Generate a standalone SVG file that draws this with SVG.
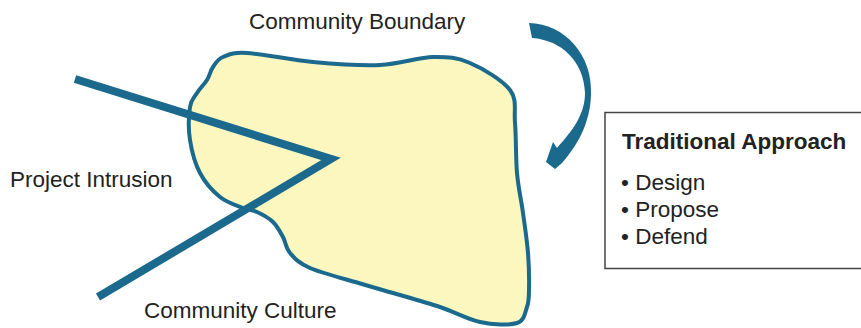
<svg xmlns="http://www.w3.org/2000/svg" width="861" height="328" viewBox="0 0 861 328">
  <style>
    .lbl { font-family: "Liberation Sans", Arial, Helvetica, sans-serif; font-size: 22.5px; fill: #222222; }
    .title { font-weight: bold; }
    .blue { fill: #1b6a8e; }
  </style>
  <rect width="861" height="328" fill="#ffffff"/>

  <!-- community area -->
  <g id="community">
    <path fill="#fbf7bf" stroke="#1b6a8e" stroke-width="4" stroke-linejoin="round"
      d="M213,67 C215.7,63.2 217.3,59.3 223,57
         S232,52.2 247,53 S290.8,60 313,62 S360,65.8 380,65 S418,57.3 433,57
         S457.2,57.5 470,63 S502.5,80 510,90 S513.8,109.2 515,123 S515.7,158 517,173
         S521.2,199.7 523,213 S527,240.2 528,253 S529.2,281 529,290 S529,301.5 527,307
         S524.8,320.5 517,323 S492.8,324.7 480,322 S454.5,311.8 440,307 S406,296.8 393,293
         S375.8,288.2 362,284 S322,273.2 310,268 S294.5,258.2 290,253 S285.8,242.2 283,237
         S277.3,226.2 273,222 S262,214.3 257,212 S249.2,210.5 243,208 S227.2,202.8 220,197
         S205,182.5 200,173 S191.7,151 190,140 S188.8,114.8 190,107 S194.2,97.5 197,93
         S204.3,84.3 207,80 S210.3,70.8 213,67 Z"/>
  </g>

  <!-- intrusion wedge and cycle arrow -->
  <g id="connectors">
    <polyline points="75,79 331,159 98,297" fill="none" stroke="#1b6a8e" stroke-width="8" stroke-linejoin="miter" stroke-miterlimit="6"/>
    <path class="blue"
      d="M529,23 C565,24 593,55 591,95 C590,125 576,147 562,163
         L555,169 L546,162 L553,142 L557,148
         C572,131 585,115 585,93 C584,62 562,40 532,38 Z"/>
  </g>

  <g id="label-boundary">
    <text class="lbl" x="249" y="29">Community Boundary</text>
  </g>
  <g id="label-intrusion">
    <text class="lbl" x="10" y="187">Project Intrusion</text>
  </g>
  <g id="label-culture">
    <text class="lbl" x="144" y="318">Community Culture</text>
  </g>

  <g id="traditional-approach">
    <rect x="605" y="112.5" width="262" height="156" fill="#ffffff" stroke="#444444" stroke-width="1.5"/>
    <text class="lbl title" x="622" y="149">Traditional Approach</text>
    <text class="lbl" x="621" y="190">• Design</text>
    <text class="lbl" x="621" y="217">• Propose</text>
    <text class="lbl" x="621" y="244">• Defend</text>
  </g>
</svg>
